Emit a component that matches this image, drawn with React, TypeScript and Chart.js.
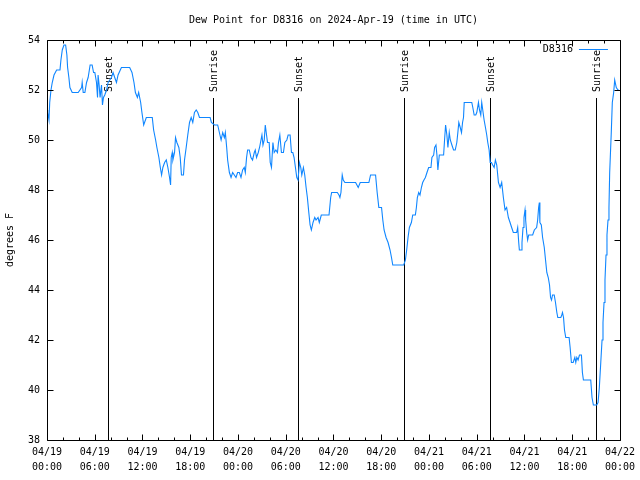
import { useEffect, useRef } from "react";
import { Chart, registerables } from "chart.js";

Chart.register(...registerables);

const TITLE = "Dew Point for D8316 on 2024-Apr-19 (time in UTC)";
const SERIES_LABEL = "D8316";
const Y_AXIS_LABEL = "degrees F";
const LINE_COLOR = "#0f86ff";
const FONT = "DejaVu Sans Mono";

const X_TICK_DATES = ["04/19", "04/19", "04/19", "04/19", "04/20", "04/20", "04/20", "04/20", "04/21", "04/21", "04/21", "04/21", "04/22"];
const X_TICK_TIMES = ["00:00", "06:00", "12:00", "18:00", "00:00", "06:00", "12:00", "18:00", "00:00", "06:00", "12:00", "18:00", "00:00"];

// hours since 2024-04-19 00:00 UTC
const EVENT_HOURS = [7.68, 20.83, 31.6, 44.87, 55.64, 68.93];
const EVENT_LABELS = ["Sunset", "Sunrise", "Sunset", "Sunrise", "Sunset", "Sunrise"];

// hours since 2024-04-19 00:00 UTC
const HOURS = [
  0.00, 0.09, 0.25, 0.34, 0.50, 0.66, 0.88, 1.21, 1.63, 1.75, 1.92, 2.13, 2.34, 2.50, 2.59, 2.75, 2.88, 3.17, 3.92, 4.35,
  4.42, 4.55, 4.76, 4.97, 5.17, 5.42, 5.67, 5.85, 6.01, 6.22, 6.35, 6.42, 6.55, 6.67, 6.85, 6.97, 7.10, 7.26, 7.48, 7.68,
  8.10, 8.30, 8.51, 8.73, 8.93, 9.35, 10.39, 10.68, 10.93, 11.11, 11.36, 11.52, 11.77, 11.93, 12.15, 12.48, 13.23, 13.40, 13.65, 13.81,
  14.06, 14.24, 14.40, 14.56, 14.78, 14.99, 15.19, 15.40, 15.53, 15.61, 15.74, 15.82, 16.03, 16.15, 16.32, 16.57, 16.74, 16.90, 17.15, 17.28,
  17.49, 17.69, 17.91, 18.12, 18.32, 18.53, 18.75, 18.95, 19.16, 20.50, 20.66, 21.04, 21.45, 21.66, 21.88, 22.08, 22.29, 22.41, 22.58, 22.70,
  22.92, 23.13, 23.33, 23.54, 23.75, 23.95, 24.17, 24.38, 24.58, 24.79, 24.92, 25.08, 25.21, 25.42, 25.63, 25.83, 26.05, 26.17, 26.33, 26.55,
  26.71, 26.89, 27.01, 27.14, 27.30, 27.43, 27.55, 27.71, 27.92, 28.05, 28.21, 28.39, 28.55, 28.76, 28.96, 29.09, 29.26, 29.46, 29.71, 29.89,
  30.14, 30.30, 30.55, 30.72, 30.89, 31.05, 31.22, 31.39, 31.55, 31.72, 31.89, 32.02, 32.22, 32.39, 32.56, 32.72, 32.90, 33.06, 33.22, 33.43,
  33.65, 33.81, 34.06, 34.22, 34.47, 35.44, 35.65, 35.77, 36.48, 36.69, 36.81, 36.94, 37.03, 37.10, 37.23, 37.44, 38.78, 39.11, 39.36, 40.45,
  40.66, 41.29, 41.49, 41.70, 42.04, 42.20, 42.36, 42.61, 42.86, 43.11, 43.29, 43.45, 44.83, 45.04, 45.20, 45.37, 45.54, 45.79, 45.96, 46.29,
  46.42, 46.54, 46.71, 46.87, 47.05, 47.21, 47.37, 47.55, 47.75, 47.96, 48.25, 48.37, 48.59, 48.71, 48.88, 49.00, 49.12, 49.30, 49.84, 49.96,
  50.09, 50.25, 50.38, 50.55, 50.68, 50.88, 51.09, 51.30, 51.50, 51.63, 51.75, 51.93, 52.09, 52.22, 52.34, 52.43, 53.38, 53.51, 53.68, 53.88,
  54.01, 54.22, 54.35, 54.51, 54.63, 54.76, 54.93, 55.10, 55.26, 55.39, 55.56, 55.69, 55.85, 56.01, 56.19, 56.35, 56.52, 56.73, 56.94, 57.14,
  57.35, 57.56, 57.76, 57.98, 58.19, 58.39, 58.60, 59.02, 59.15, 59.28, 59.36, 59.57, 59.69, 59.82, 59.94, 60.07, 60.15, 60.28, 60.40, 60.53,
  61.03, 61.24, 61.53, 61.66, 61.78, 61.87, 61.94, 62.12, 62.28, 62.49, 62.65, 62.81, 62.99, 63.15, 63.28, 63.40, 63.53, 63.74, 63.90, 64.07,
  64.19, 64.57, 64.69, 64.78, 64.91, 65.03, 65.19, 65.61, 65.74, 65.90, 66.12, 66.33, 66.45, 66.58, 66.74, 66.91, 67.16, 67.28, 67.41, 68.33,
  68.49, 68.66, 69.08, 69.25, 69.41, 69.59, 69.75, 69.87, 70.00, 70.12, 70.25, 70.37, 70.50, 70.62, 70.71, 70.91, 71.04, 71.21, 71.34, 71.54,
  71.75, 71.87,
];

const DEW_POINT = [
  51.2, 51.1, 50.8, 51.5, 52.0, 52.3, 52.6, 52.8, 52.8, 53.2, 53.6, 53.8, 53.8, 53.4, 52.9, 52.5, 52.1, 51.9, 51.9, 52.1,
  52.3, 51.9, 51.9, 52.3, 52.5, 53.0, 53.0, 52.7, 52.7, 52.3, 51.7, 52.6, 52.2, 51.7, 52.2, 51.4, 51.7, 51.8, 52.0, 52.3,
  52.5, 52.7, 52.5, 52.3, 52.6, 52.9, 52.9, 52.7, 52.3, 51.9, 51.7, 51.9, 51.5, 51.1, 50.6, 50.9, 50.9, 50.4, 50.0, 49.7,
  49.3, 48.9, 48.6, 48.9, 49.1, 49.2, 48.9, 48.5, 48.2, 49.3, 49.5, 49.2, 49.5, 50.1, 49.9, 49.7, 49.3, 48.6, 48.6, 49.2,
  49.7, 50.2, 50.7, 50.9, 50.7, 51.1, 51.2, 51.1, 50.9, 50.9, 50.7, 50.6, 50.6, 50.3, 50.0, 50.3, 50.1, 50.3, 49.7, 49.2,
  48.7, 48.5, 48.7, 48.6, 48.5, 48.7, 48.7, 48.5, 48.8, 48.9, 48.7, 49.3, 49.6, 49.6, 49.3, 49.2, 49.5, 49.6, 49.3, 49.5,
  49.7, 50.0, 50.2, 49.8, 50.0, 50.6, 50.3, 49.9, 49.9, 49.1, 48.9, 49.9, 49.5, 49.6, 49.5, 49.9, 50.2, 49.5, 49.5, 49.9,
  50.0, 50.2, 50.2, 49.5, 49.5, 49.3, 48.9, 48.5, 48.4, 49.1, 48.9, 48.6, 48.9, 48.6, 48.1, 47.7, 47.1, 46.6, 46.4, 46.7,
  46.9, 46.8, 46.9, 46.7, 47.0, 47.0, 47.7, 47.9, 47.9, 47.8, 47.7, 47.9, 48.3, 48.6, 48.4, 48.3, 48.3, 48.1, 48.3, 48.3,
  48.6, 48.6, 47.9, 47.3, 47.3, 46.8, 46.4, 46.1, 45.9, 45.6, 45.3, 45.0, 45.0, 45.2, 45.6, 46.1, 46.5, 46.7, 47.0, 47.0,
  47.3, 47.7, 47.9, 47.8, 48.1, 48.3, 48.4, 48.5, 48.7, 48.9, 48.9, 49.3, 49.4, 49.7, 49.8, 49.4, 48.8, 49.4, 49.4, 50.0,
  50.6, 50.2, 49.7, 50.3, 50.0, 49.8, 49.6, 49.6, 49.9, 50.3, 50.7, 50.5, 50.3, 50.7, 50.9, 51.5, 51.5, 51.3, 51.0, 51.0,
  51.1, 51.5, 51.2, 51.0, 51.5, 51.2, 50.8, 50.5, 50.2, 49.9, 49.6, 49.1, 49.1, 49.0, 48.9, 49.2, 49.0, 48.3, 48.1, 48.3,
  47.7, 47.2, 47.3, 46.9, 46.7, 46.5, 46.3, 46.3, 46.5, 45.9, 45.6, 45.6, 45.9, 46.5, 46.9, 47.2, 46.8, 46.3, 46.0, 46.2,
  46.2, 46.4, 46.5, 46.8, 47.3, 47.5, 46.7, 46.6, 46.1, 45.7, 45.2, 44.7, 44.5, 44.2, 43.7, 43.6, 43.8, 43.8, 43.5, 43.1,
  42.9, 42.9, 43.0, 43.1, 42.9, 42.4, 42.1, 42.1, 41.7, 41.1, 41.1, 41.3, 41.1, 41.3, 41.2, 41.4, 41.4, 40.7, 40.4, 40.4,
  39.7, 39.4, 39.4, 39.5, 40.1, 41.1, 42.0, 42.7, 43.5, 44.4, 45.4, 46.2, 46.8, 47.3, 48.7, 50.3, 51.5, 51.9, 52.4, 52.1,
  52.0, 52.0,
];

const Y_MIN = 38;
const Y_MAX = 54;
const Y_STEP = 2;
const X_MIN = 0;
const X_MAX = 72;
const X_MAJOR_STEP = 6;
const X_MINOR_STEP = 2;

const decorPlugin = {
  id: "gnuplotDecor",
  beforeDatasetsDraw(chart: any) {
    const { ctx, chartArea: a, scales } = chart;
    const x = scales.x;
    const h = a.bottom - a.top;
    ctx.save();
    ctx.strokeStyle = "#000";
    ctx.fillStyle = "#000";
    ctx.lineWidth = 1;
    ctx.font = `10px "${FONT}"`;
    EVENT_HOURS.forEach((hr, i) => {
      const px = Math.round(x.getPixelForValue(hr)) + 0.5;
      const yTop = a.bottom - 0.855 * h;
      ctx.beginPath();
      ctx.moveTo(px, a.bottom);
      ctx.lineTo(px, yTop);
      ctx.stroke();
      ctx.save();
      ctx.translate(px + 0.5, a.bottom - 0.87 * h);
      ctx.rotate(-Math.PI / 2);
      ctx.textAlign = "left";
      ctx.textBaseline = "middle";
      ctx.fillText(EVENT_LABELS[i], 0, 0);
      ctx.restore();
    });
    ctx.restore();
  },
  afterDraw(chart: any) {
    const { ctx, chartArea: a, scales } = chart;
    const x = scales.x;
    const y = scales.y;
    const L = Math.round(a.left) + 0.5;
    const R = Math.round(a.right) + 0.5;
    const T = Math.round(a.top) + 0.5;
    const B = Math.round(a.bottom) + 0.5;
    ctx.save();
    ctx.strokeStyle = "#000";
    ctx.lineWidth = 1;
    ctx.beginPath();
    ctx.rect(L, T, R - L, B - T);
    ctx.stroke();
    ctx.beginPath();
    for (let v = X_MIN; v <= X_MAX; v += X_MINOR_STEP) {
      const len = v % X_MAJOR_STEP === 0 ? 6 : 3;
      const px = Math.round(x.getPixelForValue(v)) + 0.5;
      ctx.moveTo(px, B);
      ctx.lineTo(px, B - len);
      ctx.moveTo(px, T);
      ctx.lineTo(px, T + len);
    }
    y.ticks.forEach((t: any) => {
      const py = Math.round(y.getPixelForValue(t.value)) + 0.5;
      ctx.moveTo(L, py);
      ctx.lineTo(L + 6, py);
      ctx.moveTo(R, py);
      ctx.lineTo(R - 6, py);
    });
    ctx.stroke();

    ctx.fillStyle = "#000";
    ctx.font = `10px "${FONT}"`;
    // title
    ctx.textAlign = "center";
    ctx.textBaseline = "middle";
    ctx.fillText(TITLE, (a.left + a.right) / 2, 20);
    // y axis title
    ctx.save();
    ctx.translate(10, (a.top + a.bottom) / 2);
    ctx.rotate(-Math.PI / 2);
    ctx.fillText(Y_AXIS_LABEL, 0, 0);
    ctx.restore();
    // legend
    ctx.textAlign = "right";
    ctx.fillText(SERIES_LABEL, a.right - 47, 49);
    ctx.strokeStyle = LINE_COLOR;
    ctx.beginPath();
    ctx.moveTo(a.right - 41, 49.5);
    ctx.lineTo(a.right - 12, 49.5);
    ctx.stroke();
    ctx.restore();
  },
};

export default function App() {
  const ref = useRef<HTMLCanvasElement | null>(null);
  useEffect(() => {
    document.body.style.margin = "0";
    const canvas = ref.current;
    if (!canvas) return;
    const points = HOURS.map((hr, i) => ({ x: hr, y: DEW_POINT[i] }));
    const chart = new Chart(canvas, {
      type: "line",
      data: {
        datasets: [
          {
            label: SERIES_LABEL,
            data: points,
            borderColor: LINE_COLOR,
            backgroundColor: LINE_COLOR,
            borderWidth: 1.1,
            pointRadius: 0,
            tension: 0,
            fill: false,
          },
        ],
      },
      options: {
        animation: false,
        responsive: false,
        maintainAspectRatio: false,
        layout: { padding: { top: 40, right: 18, left: 0, bottom: 0 } },
        plugins: {
          legend: { display: false },
          title: { display: false },
          tooltip: { enabled: false },
        },
        scales: {
          x: {
            type: "linear",
            min: X_MIN,
            max: X_MAX,
            grid: { display: false, drawTicks: false },
            border: { display: false },
            afterFit: (s: any) => {
              s.height = 40;
            },
            ticks: {
              stepSize: X_MAJOR_STEP,
              autoSkip: false,
              maxRotation: 0,
              minRotation: 0,
              padding: 5,
              color: "#000",
              font: { family: FONT, size: 10, lineHeight: 1.5 },
              callback: (v: any) => {
                const i = Math.round(Number(v) / X_MAJOR_STEP);
                return [X_TICK_DATES[i], X_TICK_TIMES[i]];
              },
            },
          },
          y: {
            type: "linear",
            min: Y_MIN,
            max: Y_MAX,
            grid: { display: false, drawTicks: false },
            border: { display: false },
            afterFit: (s: any) => {
              s.width = 47;
            },
            ticks: {
              stepSize: Y_STEP,
              padding: 7,
              color: "#000",
              font: { family: FONT, size: 10 },
            },
          },
        },
      },
      plugins: [decorPlugin],
    });
    return () => chart.destroy();
  }, []);
  return (
    <canvas
      ref={ref}
      width={640}
      height={480}
      style={{ display: "block", position: "absolute", left: 0, top: 0, width: 640, height: 480 }}
    />
  );
}
